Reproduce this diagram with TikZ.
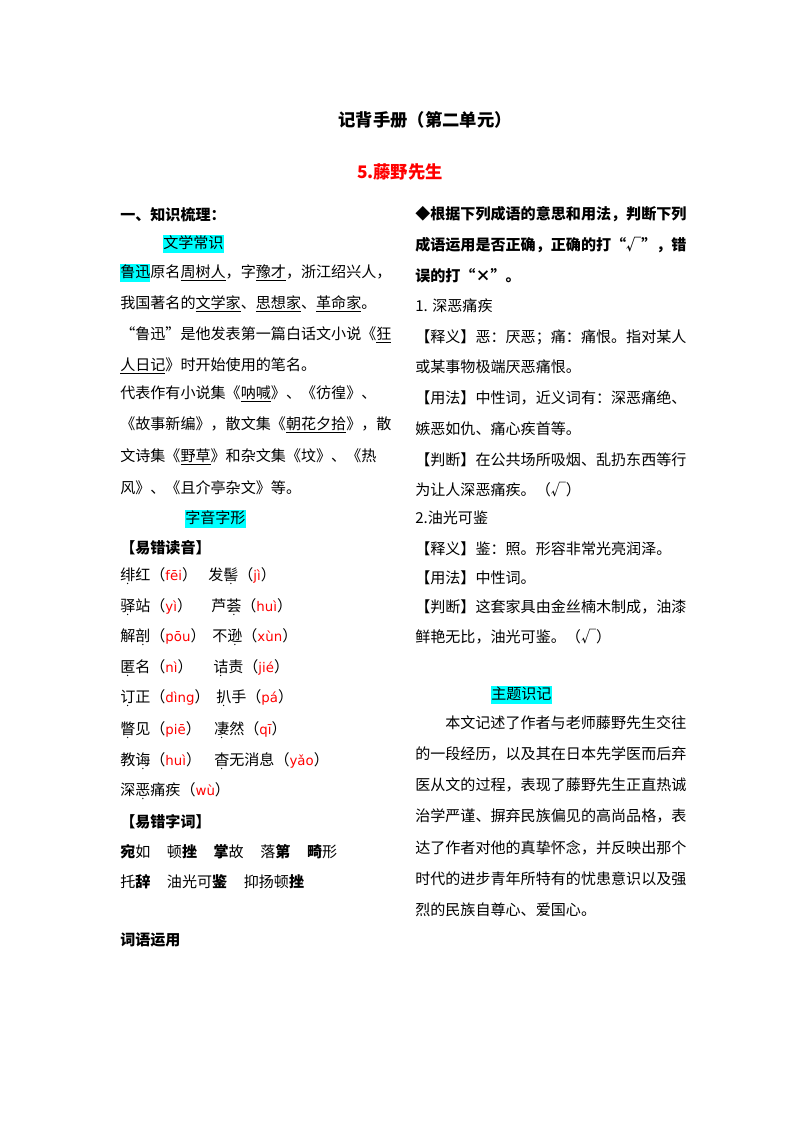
\documentclass[tikz,border=0pt]{standalone}
\usepackage{fontspec}
\setmainfont{Noto Sans CJK SC}
\newfontfamily\py{DejaVu Sans}
\definecolor{hl}{RGB}{0,255,255}
\newcommand\dz[1]{\leavevmode\ooalign{#1\cr\hidewidth\raisebox{-0.42em}{\tiny\textbullet}\hidewidth\cr}}
\newcommand\hlt[1]{{\setlength\fboxsep{0pt}\colorbox{hl}{\strut #1}}}
\newcommand\pyr[1]{（{\color{red}\py\fontsize{10pt}{12pt}\selectfont #1}）}
\newcommand\ul[1]{\underline{#1}}
\begin{document}
\begin{tikzpicture}[x=0.75pt,y=-0.75pt,
  t/.style={anchor=base west,inner sep=0pt,font=\fontsize{11.3pt}{13pt}\selectfont},
  b/.style={t,font=\fontsize{11.3pt}{13pt}\selectfont\bfseries}]
\useasboundingbox (0,0) rectangle (800,1132);
\node[anchor=base,inner sep=0,font=\fontsize{13pt}{15pt}\selectfont\bfseries] (title) at (425,126) {记背手册（第二单元）};
\node[anchor=base,inner sep=0,font=\fontsize{13pt}{15pt}\selectfont\bfseries,text=red] (sub) at (400,178) {5.藤野先生};
% left column
\node[b] (l1) at (120,220) {一、知识梳理：};
\node[t] (l2) at (163,248) {\hlt{文学常识}};
\node[t] (l3) at (120,277) {\hlt{鲁迅}原名\ul{周树人}，字\ul{豫才}，浙江绍兴人，};
\node[t] (l4) at (120,308) {我国著名的\ul{文学家}、\ul{思想家}、\ul{革命家}。};
\node[t] (l5) at (120,339) {“鲁迅”是他发表第一篇白话文小说《\ul{狂}};
\node[t] (l6) at (120,370) {\ul{人日记}》时开始使用的笔名。};
\node[t] (l7) at (120,398) {代表作有小说集《\ul{呐喊}》、《彷徨》、};
\node[t] (l8) at (120,429) {《故事新编》，散文集《\ul{朝花夕拾}》，散};
\node[t] (l9) at (120,461) {文诗集《\ul{野草}》和杂文集《坟》、《热};
\node[t] (l10) at (120,493) {风》、《且介亭杂文》等。};
\node[t] (l11) at (185,523) {\hlt{字音字形}};
\node[b] (l12) at (120,553) {【易错读音】};
\node[t] (p1a) at (120,580) {\dz{绯}红\pyr{fēi}};
\node[t] (p1b) at (208,580) {发\dz{髻}\pyr{jì}};
\node[t] (p2a) at (120,611) {\dz{驿}站\pyr{yì}};
\node[t] (p2b) at (211,611) {芦\dz{荟}\pyr{huì}};
\node[t] (p3a) at (120,641) {解\dz{剖}\pyr{pōu}};
\node[t] (p3b) at (212,641) {不\dz{逊}\pyr{xùn}};
\node[t] (p4a) at (120,672) {\dz{匿}名\pyr{nì}};
\node[t] (p4b) at (213,672) {\dz{诘}责\pyr{jié}};
\node[t] (p5a) at (120,702) {\dz{订}正\pyr{dìng}};
\node[t] (p5b) at (216,702) {\dz{扒}手\pyr{pá}};
\node[t] (p6a) at (120,734) {\dz{瞥}见\pyr{piē}};
\node[t] (p6b) at (214,734) {\dz{凄}然\pyr{qī}};
\node[t] (p7a) at (120,765) {教\dz{诲}\pyr{huì}};
\node[t] (p7b) at (214,765) {\dz{杳}无消息\pyr{yǎo}};
\node[t] (p8a) at (120,795) {深\dz{恶}痛疾\pyr{wù}};
\node[b] (l13) at (120,827) {【易错字词】};
\node[t] (w1) at (120,857) {\textbf{宛}如\hspace{1.1em}顿\textbf{挫}\hspace{1.1em}\textbf{掌}故\hspace{1.1em}落\textbf{第}\hspace{1.1em}\textbf{畸}形};
\node[t] (w2) at (120,887) {托\textbf{辞}\hspace{1.1em}油光可\textbf{鉴}\hspace{1.1em}抑扬顿\textbf{挫}};
\node[b] (l14) at (120,945) {词语运用};
% right column
\node[b] (r1) at (415,219) {◆根据下列成语的意思和用法，判断下列};
\node[b] (r2) at (415,250) {成语运用是否正确，正确的打“√”，错};
\node[b] (r3) at (415,281) {误的打“×”。};
\node[t] (r4) at (415,311) {1. 深恶痛疾};
\node[t] (r5) at (415,342) {【释义】恶：厌恶；痛：痛恨。指对某人};
\node[t] (r6) at (415,372) {或某事物极端厌恶痛恨。};
\node[t] (r7) at (415,403) {【用法】中性词，近义词有：深恶痛绝、};
\node[t] (r8) at (415,434) {嫉恶如仇、痛心疾首等。};
\node[t] (r9) at (415,465) {【判断】在公共场所吸烟、乱扔东西等行};
\node[t] (r10) at (415,495) {为让人深恶痛疾。（√）};
\node[t] (r11) at (415,523) {2.油光可鉴};
\node[t] (r12) at (415,554) {【释义】鉴：照。形容非常光亮润泽。};
\node[t] (r13) at (415,583) {【用法】中性词。};
\node[t] (r14) at (415,612) {【判断】这套家具由金丝楠木制成，油漆};
\node[t] (r15) at (415,642) {鲜艳无比，油光可鉴。（√）};
\node[t] (r16) at (491,699) {\hlt{主题识记}};
\node[t] (s1) at (445,728) {本文记述了作者与老师藤野先生交往};
\node[t] (s2) at (415,759) {的一段经历，以及其在日本先学医而后弃};
\node[t] (s3) at (415,790) {医从文的过程，表现了藤野先生正直热诚};
\node[t] (s4) at (415,821) {治学严谨、摒弃民族偏见的高尚品格，表};
\node[t] (s5) at (415,853) {达了作者对他的真挚怀念，并反映出那个};
\node[t] (s6) at (415,884) {时代的进步青年所特有的忧患意识以及强};
\node[t] (s7) at (415,915) {烈的民族自尊心、爱国心。};
\end{tikzpicture}
\end{document}
